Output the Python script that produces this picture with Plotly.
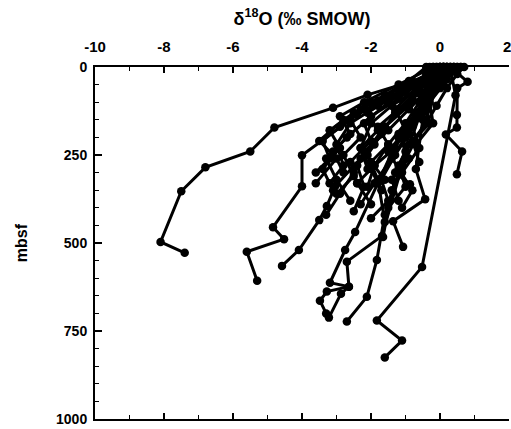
import plotly.graph_objects as go

# Each profile: delta18O values (x) and depth in mbsf (y)
profile_x = [
    [0.1, 0.0, -0.8, -2.1, -3.1, -4.8, -5.5, -6.8, -7.5, -8.1, -7.4],
    [0.2, 0.3, -1.0, -2.4, -4.0, -4.0, -4.84, -4.52, -5.6, -5.3],
    [0.0, -0.2, -0.8, -1.6, -2.3, -3.04, -3.28, -3.5, -4.09, -4.58],
    [0.3, 0.1, -0.5, -1.2, -1.8, -2.46, -2.75, -3.19, -2.64, -2.87, -3.22],
    [0.0, -0.2, -0.6, -1.1, -1.68, -2.7, -2.64, -3.28, -3.48, -3.3],
    [0.2, 0.0, -0.4, -1.2, -1.6, -1.83, -2.12, -2.7],
    [0.3, 0.45, -0.52, -1.83, -1.1, -1.6],
    [0.3, 0.8, 0.5, 0.49, 0.49, 0.17, 0.64, 0.49],
    [0.1, -0.2, -0.5, -0.7, -0.43, -1.36, -1.07],
    [-0.2, -0.4, -1.0, -1.8, -2.6, -3.0, -2.8, -3.2],
    [0.1, 0.0, -0.3, -0.9, -1.5, -2.2, -2.5, -2.9, -3.3],
    [0.2, 0.1, -0.2, -0.7, -1.0, -1.4, -1.9, -2.3],
    [-0.1, 0.0, -0.5, -0.3, -0.9, -1.2, -1.0, -1.5],
    [0.4, 0.3, 0.0, -0.4, -0.8, -0.6, -1.1, -1.4, -1.65],
    [0.0, -0.3, -1.5, -2.8, -3.5, -3.0, -3.6],
    [0.2, 0.0, -0.8, -1.5, -2.2, -2.0, -2.6, -2.4],
    [0.1, 0.2, -0.3, -0.6, -1.2, -1.0, -1.3, -0.87],
    [0.5, 0.3, -0.2, -0.4, -1.0, -1.3, -1.9, -2.1],
    [-0.3, -0.1, -0.6, -1.4, -2.0, -2.3, -2.1],
    [0.6, 0.4, 0.1, -0.3, -0.2, -0.7],
    [0.3, -0.5, -1.8, -2.5, -3.2, -2.9, -3.4, -3.1],
    [0.0, -0.6, -1.2, -2.0, -2.7, -3.3, -3.0, -2.6],
    [0.4, -0.2, -0.9, -1.6, -1.9, -2.4, -2.2, -2.5],
    [0.1, -0.4, -0.8, -1.3, -1.7, -2.1, -1.8, -1.6],
    [0.5, 0.2, -0.3, -0.7, -1.1, -0.9, -1.4, -1.2],
    [0.7, 0.5, 0.2, -0.1, -0.4, -0.8, -0.6],
    [-0.4, -0.9, -1.6, -2.3, -2.9, -3.4, -3.2, -3.6],
    [0.2, -0.3, -0.6, -1.0, -1.5, -1.9, -2.4, -2.0],
    [-0.2, -1.2, -2.2, -2.9, -2.6, -3.1, -2.8],
    [0.4, 0.1, -0.2, -0.5, -0.9, -1.3, -1.7, -1.5, -2.0],
    [0.0, -1.0, -2.0, -2.6, -2.3, -2.8, -2.5, -3.0],
    [0.3, -0.4, -1.4, -2.1, -1.8, -2.3, -2.0, -1.7],
    [-0.1, -0.7, -1.3, -1.0, -1.5, -1.2, -0.8, -1.1],
    [0.6, 0.0, -0.6, -1.2, -1.8, -1.5, -2.0, -1.6],
]
profile_y = [
    [0, 10, 40, 79, 116, 172, 240, 285, 353, 497, 528],
    [5, 15, 60, 136, 251, 339, 455, 489, 525, 607],
    [0, 20, 90, 170, 260, 339, 395, 435, 520, 565],
    [0, 10, 100, 200, 330, 469, 520, 613, 624, 644, 712],
    [5, 30, 140, 280, 480, 553, 624, 638, 664, 700],
    [0, 20, 150, 300, 420, 548, 653, 723],
    [5, 80, 568, 720, 777, 825],
    [0, 42, 60, 136, 172, 192, 240, 305],
    [0, 20, 150, 290, 376, 438, 511],
    [0, 20, 70, 110, 160, 220, 280, 330],
    [0, 5, 60, 120, 180, 240, 300, 360, 420],
    [0, 10, 70, 130, 200, 260, 330, 390],
    [0, 25, 90, 160, 220, 280, 340, 400],
    [0, 10, 60, 110, 170, 230, 300, 350, 483],
    [0, 40, 90, 150, 210, 260, 330],
    [0, 5, 50, 100, 160, 210, 270, 330],
    [0, 15, 80, 140, 190, 240, 300, 333],
    [0, 15, 70, 120, 180, 230, 280, 340],
    [0, 20, 60, 110, 160, 230, 290],
    [0, 10, 50, 100, 160, 220],
    [10, 50, 95, 130, 180, 230, 290, 350],
    [0, 45, 90, 140, 200, 260, 320, 380],
    [0, 60, 110, 170, 220, 280, 340, 410],
    [0, 30, 80, 130, 190, 250, 320, 440],
    [0, 35, 85, 140, 200, 260, 320, 380],
    [0, 20, 60, 110, 160, 210, 270],
    [0, 40, 80, 120, 170, 210, 260, 300],
    [0, 40, 100, 160, 220, 280, 330, 390],
    [0, 50, 100, 140, 190, 240, 300],
    [0, 25, 70, 130, 190, 250, 320, 380, 430],
    [0, 55, 100, 150, 200, 250, 310, 360],
    [0, 40, 85, 130, 180, 230, 290, 350],
    [0, 60, 120, 180, 240, 290, 350, 400],
    [0, 30, 75, 120, 170, 220, 270, 320],
]

x_title = "δ<sup>18</sup>O (‰ SMOW)"
y_title = "mbsf"
x_ticks = [-10, -8, -6, -4, -2, 0, 2]
y_ticks = [0, 250, 500, 750, 1000]

fig = go.Figure()
for xs, ys in zip(profile_x, profile_y):
    fig.add_trace(go.Scatter(
        x=xs, y=ys, mode="lines+markers",
        line=dict(color="black", width=3),
        marker=dict(color="black", size=8.5),
        showlegend=False, cliponaxis=False,
    ))

font_x = dict(family="Liberation Sans", size=15, color="black", weight="bold")
font_y = dict(family="Liberation Sans", size=14, color="black", weight="bold")

# tick labels drawn by the axis, except the last one which would be clipped at the page edge
shown_x_ticks = x_ticks[:-1]

fig.update_layout(
    width=511, height=429,
    margin=dict(l=95, r=2, t=67, b=8),
    paper_bgcolor="white", plot_bgcolor="white",
    font=font_y,
    xaxis=dict(
        side="top", range=[-10, 2.0001], tickvals=x_ticks,
        ticktext=[str(v) for v in shown_x_ticks] + [""],
        ticks="inside", ticklen=6, tickwidth=1.5, tickcolor="black",
        minor=dict(dtick=1, ticks="inside", ticklen=4, tickwidth=1.2, tickcolor="black"),
        showline=True, linecolor="black", linewidth=2, mirror="ticks",
        showgrid=False, zeroline=False,
        tickfont=font_x, ticklabelstandoff=7,
        title=dict(text=x_title, font=dict(family="Liberation Sans", size=18, color="black", weight="bold"), standoff=8),
    ),
    yaxis=dict(
        range=[1000, 0], tickvals=y_ticks,
        ticktext=[str(v) for v in y_ticks],
        ticks="inside", ticklen=7, tickwidth=1.5, tickcolor="black",
        minor=dict(dtick=50, ticks="inside", ticklen=4, tickwidth=1.2, tickcolor="black"),
        showline=True, linecolor="black", linewidth=2, mirror=False,
        showgrid=False, zeroline=False,
        tickfont=font_y, ticklabelstandoff=3,
        title=dict(text=y_title, font=dict(family="Liberation Sans", size=16, color="black", weight="bold"), standoff=24),
    ),
    annotations=[dict(
        x=x_ticks[-1], y=1, xref="x", yref="paper", yanchor="bottom", xanchor="right",
        yshift=10, xshift=4, text=str(x_ticks[-1]), showarrow=False, font=font_x,
    )],
)

fig.write_html("out.html")
